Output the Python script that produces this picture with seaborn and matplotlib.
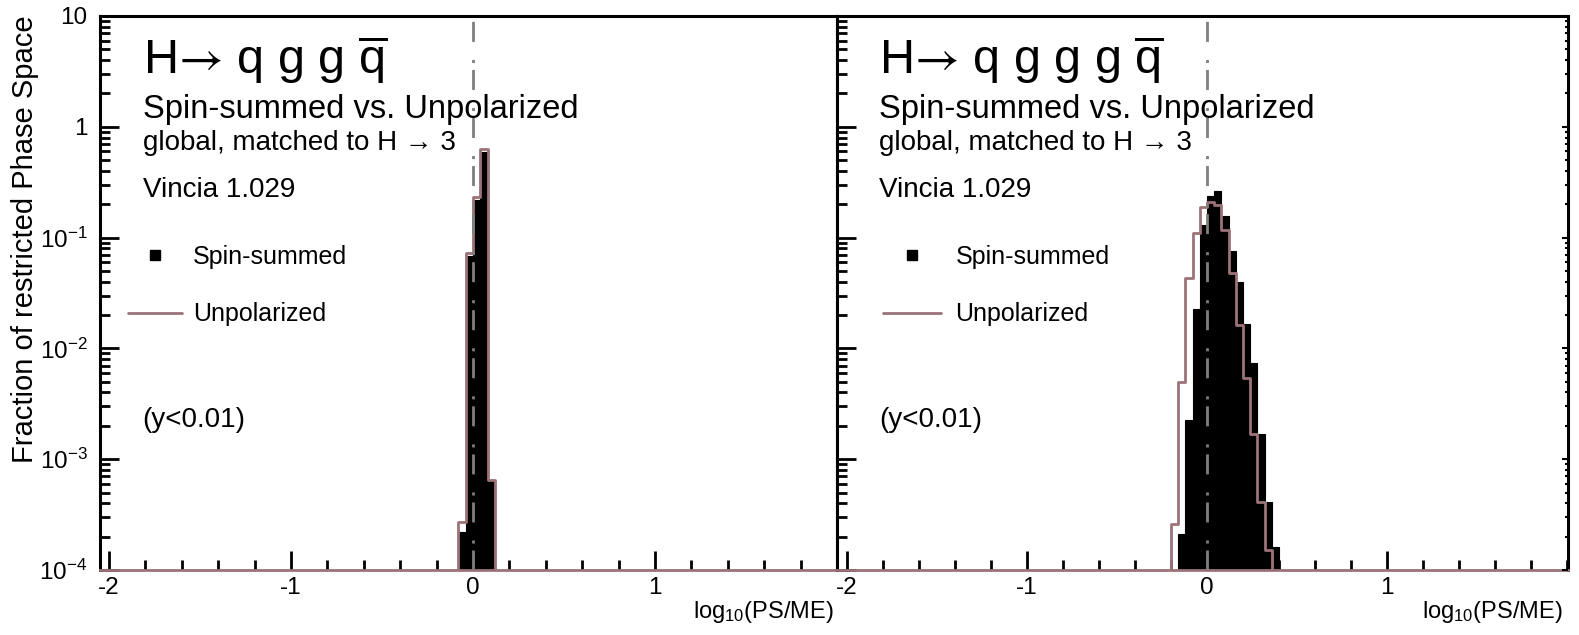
import numpy as np
import pandas as pd
import matplotlib
matplotlib.use("Agg")
import matplotlib.pyplot as plt
import seaborn as sns
from matplotlib.lines import Line2D
from matplotlib.ticker import FixedLocator, FixedFormatter, MultipleLocator, LogLocator, NullFormatter

sns.set_theme(style="ticks")
plt.rcParams['font.family'] = ['Liberation Sans', 'DejaVu Sans']
plt.rcParams['mathtext.fontset'] = 'custom'
plt.rcParams['mathtext.rm'] = 'Liberation Sans'
plt.rcParams['mathtext.it'] = 'Liberation Sans:italic'
plt.rcParams['mathtext.bf'] = 'Liberation Sans:bold'
plt.rcParams['mathtext.sf'] = 'STIXGeneral'
plt.rcParams['axes.unicode_minus'] = False
for k in ['text.color', 'axes.labelcolor', 'xtick.color', 'ytick.color', 'axes.edgecolor']:
    plt.rcParams[k] = 'black'

# ---------------- data ----------------
# left panel: H -> q g g qbar  (bin edges in log10(PS/ME), fraction per bin)
EDGES_QGGQ = [-0.12, -0.08, -0.04, 0.0, 0.04, 0.08, 0.12, 0.16]
SPIN_QGGQ = [0.0, 2.2e-4, 0.068, 0.22, 0.595, 6.3e-4, 0.0]
UNPOL_QGGQ = [0.0, 2.7e-4, 0.0725, 0.234, 0.627, 6.5e-4, 0.0]

# right panel: H -> q g g g qbar
EDGES_QGGGQ = [-0.24, -0.20, -0.16, -0.12, -0.08, -0.04, 0.0, 0.04, 0.08,
               0.12, 0.16, 0.20, 0.24, 0.28, 0.32, 0.36, 0.40, 0.44]
SPIN_QGGGQ = [0.0, 0.0, 2.1e-4, 2.26e-3, 0.0225, 0.13, 0.237, 0.265, 0.157,
              0.0763, 0.040, 0.0166, 7.4e-3, 1.7e-3, 4.1e-4, 1.6e-4, 0.0]
UNPOL_QGGGQ = [0.0, 2.6e-4, 5.0e-3, 0.0435, 0.109, 0.19, 0.211, 0.195, 0.117,
               0.048, 0.0163, 5.4e-3, 1.7e-3, 4.1e-4, 1.5e-4, 0.0, 0.0]

YTICKS = [1e-4, 1e-3, 1e-2, 1e-1, 1, 10]
YTICK_LABELS = [r"$10^{-4}$", r"$10^{-3}$", r"$10^{-2}$", r"$10^{-1}$", "1", "10"]
XTICKS = [-2, -1, 0, 1]
XTICK_LABELS = ["-2", "-1", "0", "1"]

TITLES = [r"H$\mathsf{→}$ q g g $\overline{\mathrm{q}}$",
          r"H$\mathsf{→}$ q g g g $\overline{\mathrm{q}}$"]
SUBTITLE = "Spin-summed vs. Unpolarized"
LINE3 = "global, matched to H → 3"
VERSION = "Vincia 1.029"
CUT = "(y<0.01)"
LEG_LABELS = ["Spin-summed", "Unpolarized"]
XLABEL = r"log$_{10}$(PS/ME)"
YLABEL = "Fraction of restricted Phase Space"

MAUVE = "#9b7378"
W, H = 1579, 635

fig = plt.figure(figsize=(W / 100, H / 100), dpi=100)
axL = fig.add_axes([100 / W, 65 / H, 737 / W, 554 / H])
axR = fig.add_axes([837 / W, 65 / H, 731 / W, 554 / H])

panels = [
    (axL, EDGES_QGGQ, SPIN_QGGQ, UNPOL_QGGQ, (-2.05, 2.0)),
    (axR, EDGES_QGGGQ, SPIN_QGGGQ, UNPOL_QGGGQ, (-2.056, 2.006)),
]

for i, (ax, edges, spin, unpol, xlim) in enumerate(panels):
    e = np.asarray(edges, dtype=float)
    centers = 0.5 * (e[:-1] + e[1:])
    df = pd.DataFrame({"x": centers, "spin": spin, "unpol": unpol})
    sns.histplot(data=df, x="x", weights="spin", bins=list(edges), element="bars", fill=True,
                 color="black", edgecolor="black", linewidth=0.8, alpha=1, ax=ax, zorder=2)
    sns.histplot(data=df, x="x", weights="unpol", bins=list(edges), element="step", fill=False,
                 color=MAUVE, linewidth=2.0, ax=ax, zorder=3)
    ax.set_yscale("log")
    ax.set_ylim(1e-4, 10)
    ax.set_xlim(*xlim)
    ax.axvline(0, color="#7f7f7f", lw=2.0, linestyle=(0, (7.2, 2.5, 1.1, 6.5)), zorder=4)

    ax.set_xlabel("")
    ax.set_ylabel("")
    ax.xaxis.set_major_locator(FixedLocator(XTICKS))
    ax.xaxis.set_major_formatter(FixedFormatter(XTICK_LABELS))
    ax.xaxis.set_minor_locator(MultipleLocator(0.2))
    ax.yaxis.set_major_locator(FixedLocator(YTICKS))
    ax.yaxis.set_minor_locator(LogLocator(base=10, subs=np.arange(2, 10)))
    ax.yaxis.set_minor_formatter(NullFormatter())
    if i == 0:
        ax.yaxis.set_major_formatter(FixedFormatter(YTICK_LABELS))
        ax.tick_params(axis="y", which="both", labelleft=True, right=False)
    else:
        ax.yaxis.set_major_formatter(NullFormatter())
        ax.tick_params(axis="y", which="both", labelleft=False, right=False)
    ax.tick_params(axis="both", which="major", direction="in", length=14, width=2,
                   labelsize=17.5, color="black", labelcolor="black")
    ax.tick_params(axis="both", which="minor", direction="in", length=7, width=2, color="black")
    ax.tick_params(axis="x", which="major", pad=5)
    ax.tick_params(axis="y", which="major", pad=9)
    for s in ["top", "left", "right"]:
        ax.spines[s].set_linewidth(2.2)
        ax.spines[s].set_color("black")
    ax.spines["bottom"].set_color(MAUVE)
    ax.spines["bottom"].set_linewidth(2.0)
    ax.grid(False)

    x0 = 0.058
    ax.text(x0, 0.895, TITLES[i], transform=ax.transAxes, fontsize=35, va="baseline", ha="left")
    ax.text(x0, 0.815, SUBTITLE, transform=ax.transAxes, fontsize=23.5, va="baseline", ha="left")
    ax.text(x0, 0.758, LINE3, transform=ax.transAxes, fontsize=20, va="baseline", ha="left")
    ax.text(x0, 0.673, VERSION, transform=ax.transAxes, fontsize=20, va="baseline", ha="left")
    ax.text(x0, 0.258, CUT, transform=ax.transAxes, fontsize=20, va="baseline", ha="left")

    handles = [Line2D([], [], marker="s", color="black", linestyle="none", markersize=7),
               Line2D([], [], color=MAUVE, lw=2)]
    if i == 0:
        anchor, hl, tp = (0.038, 0.587), 2.16, 0.44
    else:
        anchor, hl, tp = (0.063, 0.587), 2.3, 0.6
    ax.legend(handles=handles, labels=LEG_LABELS, loc="upper left", bbox_to_anchor=anchor,
              frameon=False, fontsize=18, handlelength=hl, handletextpad=tp,
              labelspacing=1.34, borderpad=0, borderaxespad=0)

    xr = 0.996 if i == 0 else 0.993
    ax.text(xr, -0.086, XLABEL, transform=ax.transAxes, fontsize=17, va="baseline", ha="right")

# short ticks on the right edge of the right panel
axR2 = axR.twinx()
axR2.set_yscale("log")
axR2.set_ylim(1e-4, 10)
axR2.yaxis.set_major_locator(FixedLocator(YTICKS))
axR2.yaxis.set_minor_locator(LogLocator(base=10, subs=np.arange(2, 10)))
axR2.yaxis.set_major_formatter(NullFormatter())
axR2.yaxis.set_minor_formatter(NullFormatter())
axR2.tick_params(axis="y", which="major", direction="in", length=4, width=1.5)
axR2.tick_params(axis="y", which="minor", direction="in", length=2.5, width=1.5)
for s in axR2.spines.values():
    s.set_visible(False)
axR2.grid(False)

fig.text(25 / W, 1 - 15 / H, YLABEL, rotation=90, ha="center", va="top", fontsize=21)

fig.savefig("out.png", dpi=100)
